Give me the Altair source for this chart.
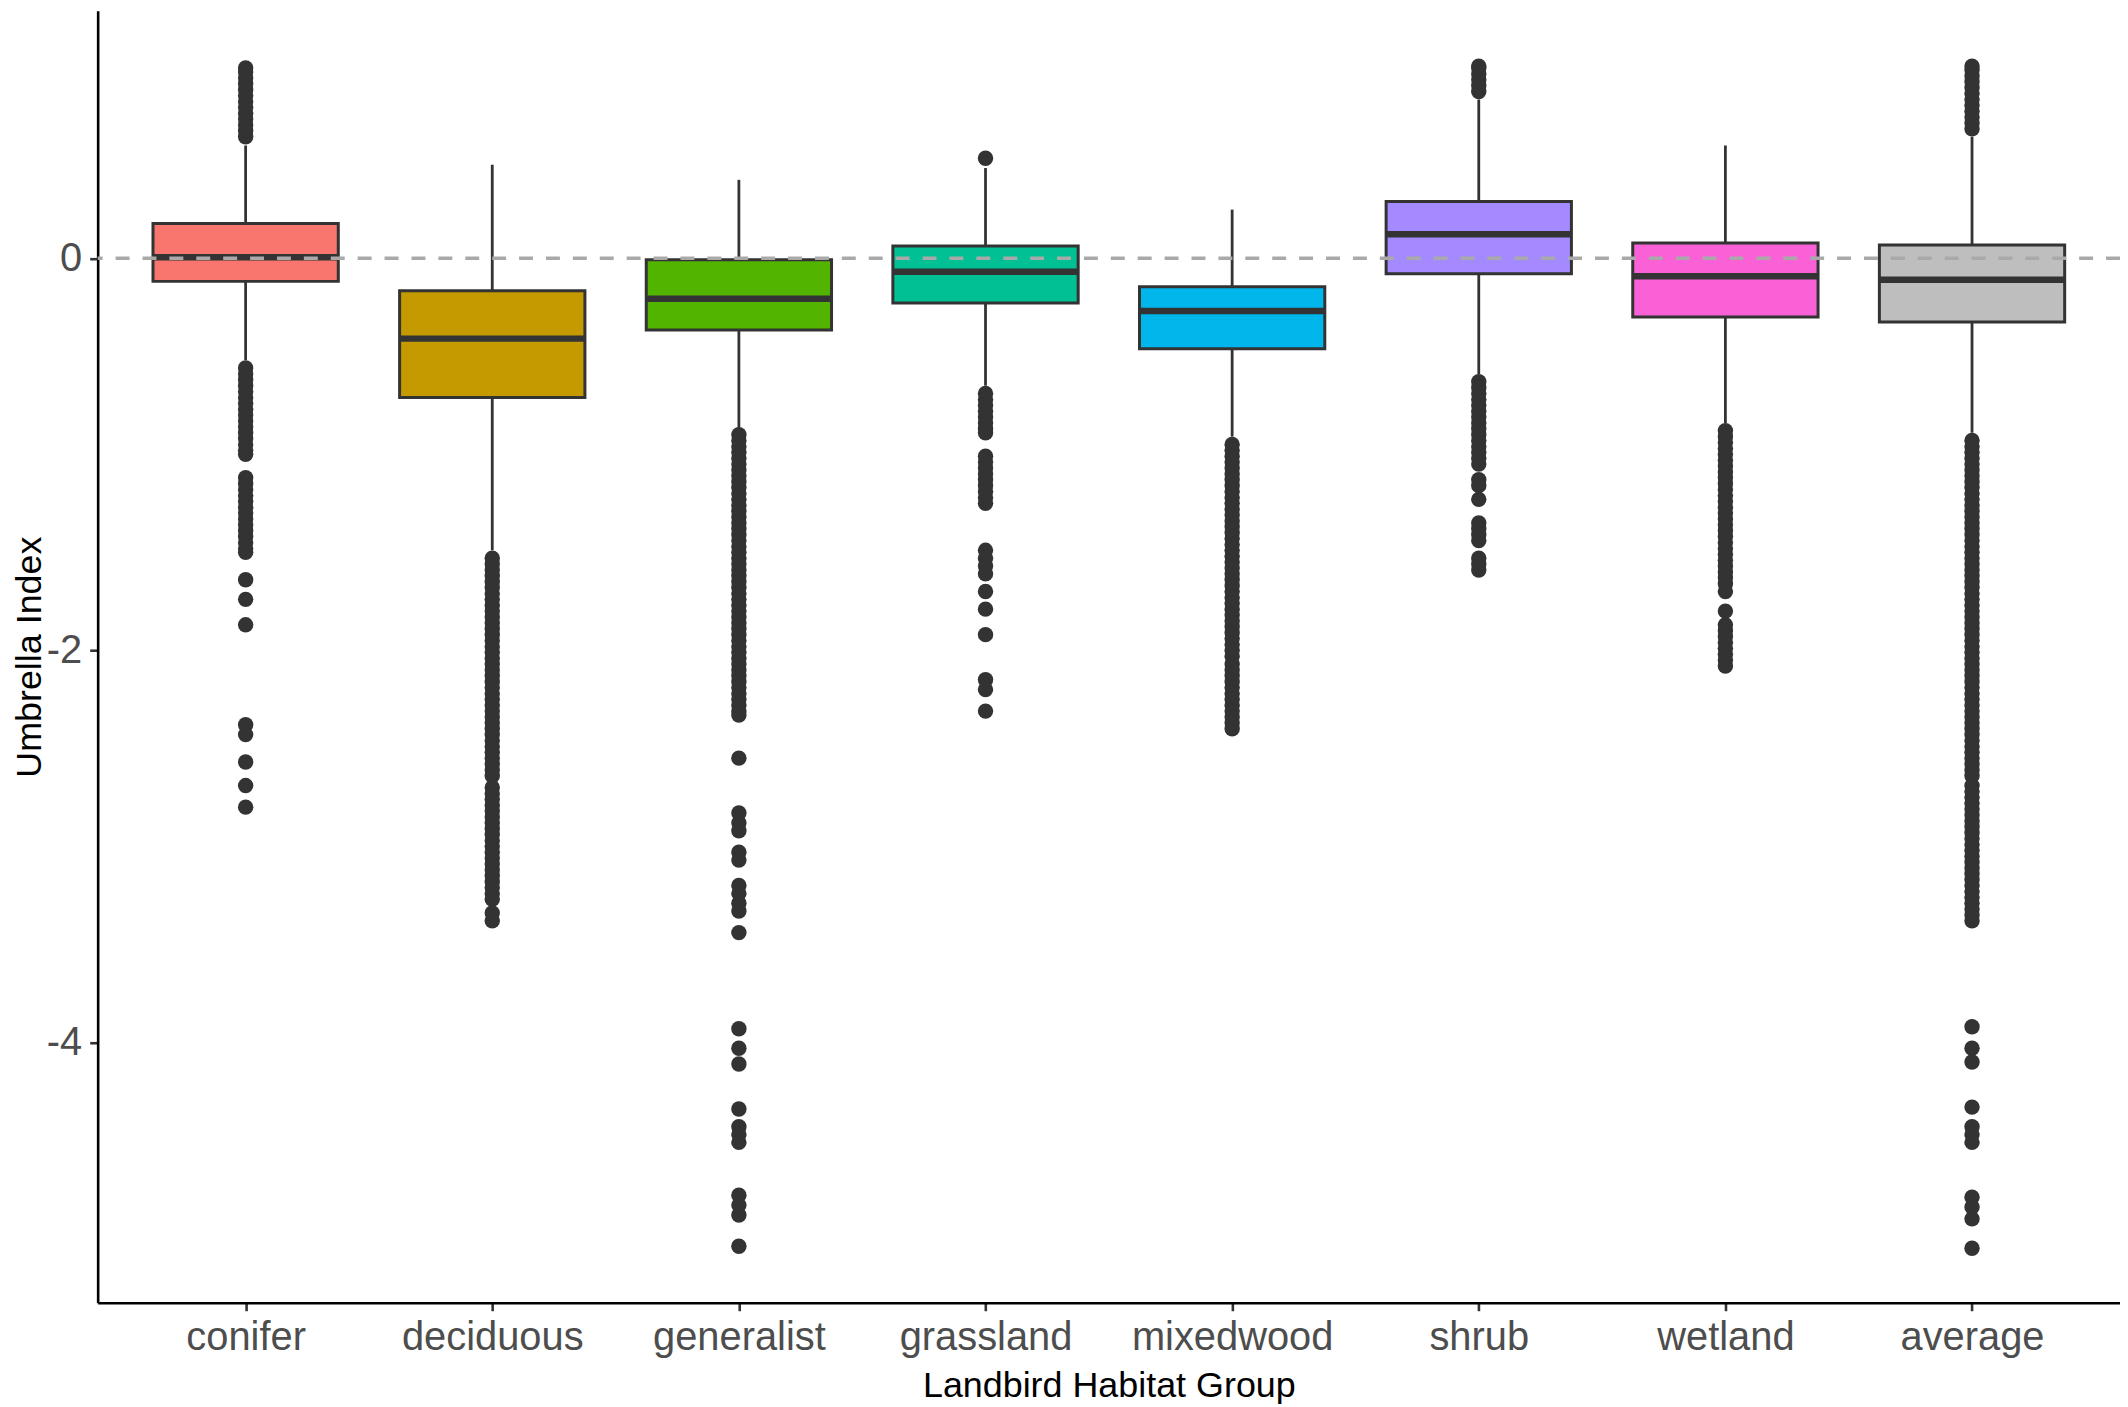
import altair as alt
import pandas as pd

# ---------------- data ----------------
categories = ["conifer", "deciduous", "generalist", "grassland",
              "mixedwood", "shrub", "wetland", "average"]
fill_colors = ["#F8766D", "#C49A00", "#53B400", "#00C094",
               "#00B6EB", "#A58AFF", "#FB61D7", "#BEBEBE"]

lower_hinge = [-0.118, -0.710, -0.366, -0.228, -0.462, -0.079, -0.300, -0.325]
medians = [0.005, -0.410, -0.207, -0.069, -0.269, 0.122, -0.092, -0.110]
upper_hinge = [0.177, -0.166, -0.008, 0.062, -0.145, 0.290, 0.078, 0.068]
whisker_low = [-0.52, -1.49, -0.87, -0.65, -0.91, -0.59, -0.84, -0.89]
whisker_high = [0.575, 0.477, 0.400, 0.460, 0.248, 0.810, 0.575, 0.620]

outliers_conifer = [
    0.62, 0.65, 0.68, 0.71, 0.74, 0.77, 0.80, 0.83, 0.86, 0.89, 0.92, 0.95, 0.97,
    -0.56, -0.59, -0.62, -0.65, -0.68, -0.71, -0.74, -0.77, -0.80, -0.83, -0.86,
    -0.89, -0.92, -0.95, -0.98, -1.00,
    -1.12, -1.15, -1.18, -1.21, -1.24, -1.27, -1.30, -1.33, -1.36, -1.39, -1.42,
    -1.45, -1.48, -1.50,
    -1.64, -1.74, -1.87, -2.38, -2.43, -2.57, -2.69, -2.80]
outliers_deciduous = [
    -1.53, -1.56, -1.59, -1.62, -1.65, -1.68, -1.71, -1.74, -1.77, -1.80,
    -1.83, -1.86, -1.89, -1.92, -1.95, -1.98, -2.01, -2.04, -2.07, -2.10,
    -2.13, -2.16, -2.19, -2.22, -2.25, -2.28, -2.31, -2.34, -2.37, -2.40,
    -2.43, -2.46, -2.49, -2.52, -2.55, -2.58, -2.61, -2.64, -2.70, -2.73,
    -2.76, -2.79, -2.82, -2.85, -2.88, -2.91, -2.94, -2.97, -3.00, -3.03,
    -3.06, -3.09, -3.12, -3.15, -3.18, -3.21, -3.24, -3.27, -3.34, -3.38]
outliers_generalist = [
    -0.90, -0.93, -0.96, -0.99, -1.02, -1.05, -1.08, -1.11, -1.14, -1.17,
    -1.20, -1.23, -1.26, -1.29, -1.32, -1.35, -1.38, -1.41, -1.44, -1.47,
    -1.50, -1.53, -1.56, -1.59, -1.62, -1.65, -1.68, -1.71, -1.74, -1.77,
    -1.80, -1.83, -1.86, -1.89, -1.92, -1.95, -1.98, -2.01, -2.04, -2.07,
    -2.10, -2.13, -2.16, -2.19, -2.22, -2.25, -2.28, -2.31, -2.33,
    -2.55, -2.83, -2.88, -2.92, -3.03, -3.07, -3.20, -3.24, -3.29, -3.33, -3.44,
    -3.93, -4.03, -4.11, -4.34, -4.43, -4.47, -4.51, -4.78, -4.83, -4.88, -5.04]
outliers_grassland = [
    0.51,
    -0.69, -0.72, -0.75, -0.78, -0.81, -0.84, -0.87, -0.89,
    -1.01, -1.04, -1.07, -1.10, -1.13, -1.16, -1.19, -1.22, -1.25,
    -1.49, -1.53, -1.57, -1.61, -1.70, -1.79, -1.92, -2.15, -2.20, -2.31]
outliers_mixedwood = [
    -0.95, -0.98, -1.01, -1.04, -1.07, -1.10, -1.13, -1.16, -1.19, -1.22,
    -1.25, -1.28, -1.31, -1.34, -1.37, -1.40, -1.43, -1.46, -1.49, -1.52,
    -1.55, -1.58, -1.61, -1.64, -1.67, -1.70, -1.73, -1.76, -1.79, -1.82,
    -1.85, -1.88, -1.91, -1.94, -1.97, -2.00, -2.03, -2.07, -2.10, -2.13,
    -2.16, -2.19, -2.22, -2.25, -2.28, -2.31, -2.34, -2.37, -2.40]
outliers_shrub = [
    0.85, 0.88, 0.91, 0.94, 0.97, 0.98,
    -0.63, -0.66, -0.69, -0.72, -0.75, -0.78, -0.81, -0.84, -0.87, -0.90,
    -0.93, -0.96, -0.99, -1.02, -1.05,
    -1.13, -1.16, -1.23, -1.35, -1.38, -1.41, -1.44, -1.53, -1.56, -1.59]
outliers_wetland = [
    -0.88, -0.91, -0.94, -0.97, -1.00, -1.03, -1.06, -1.09, -1.12, -1.15,
    -1.18, -1.21, -1.24, -1.27, -1.30, -1.33, -1.36, -1.39, -1.42, -1.45,
    -1.48, -1.51, -1.54, -1.57, -1.60, -1.63, -1.66, -1.70,
    -1.80, -1.87, -1.90, -1.93, -1.96, -1.99, -2.02, -2.05, -2.08]
outliers_average = [
    0.66, 0.69, 0.72, 0.75, 0.78, 0.81, 0.84, 0.87, 0.90, 0.93, 0.96, 0.98,
    -0.93, -0.96, -0.99, -1.02, -1.05, -1.08, -1.11, -1.14, -1.17, -1.20,
    -1.23, -1.26, -1.29, -1.32, -1.35, -1.38, -1.41, -1.44, -1.47, -1.50,
    -1.53, -1.56, -1.59, -1.62, -1.65, -1.68, -1.71, -1.74, -1.77, -1.80,
    -1.83, -1.86, -1.89, -1.92, -1.95, -1.98, -2.01, -2.04, -2.07, -2.10,
    -2.13, -2.16, -2.19, -2.22, -2.25, -2.28, -2.31, -2.34, -2.37, -2.40,
    -2.43, -2.46, -2.49, -2.52, -2.55, -2.58, -2.61, -2.64, -2.69, -2.72,
    -2.75, -2.78, -2.81, -2.84, -2.87, -2.90, -2.93, -2.96, -2.99, -3.02,
    -3.05, -3.08, -3.11, -3.14, -3.17, -3.20, -3.23, -3.26, -3.29, -3.32,
    -3.35, -3.38,
    -3.92, -4.03, -4.10, -4.33, -4.43, -4.47, -4.51, -4.79, -4.84, -4.90, -5.05]

reference_line = [0]
y_ticks = [0, -2, -4]
y_domain = [-5.328, 1.263]

# ---------------- tables built from the arrays ----------------
box_df = pd.DataFrame({
    "category": categories,
    "q1": lower_hinge,
    "med": medians,
    "q3": upper_hinge,
    "lo": whisker_low,
    "hi": whisker_high,
})
outlier_lists = [outliers_conifer, outliers_deciduous, outliers_generalist,
                 outliers_grassland, outliers_mixedwood, outliers_shrub,
                 outliers_wetland, outliers_average]
out_df = pd.DataFrame(
    [{"category": c, "value": v} for c, vals in zip(categories, outlier_lists) for v in vals]
)
ref_df = pd.DataFrame({"zero": reference_line})

FONT = "Liberation Sans"
PLOT_W, PLOT_H = 2030, 1297
BOX_W = 186
LINE = "#333333"

x_axis = alt.Axis(
    title="Landbird Habitat Group", labelAngle=0, labelFont=FONT, labelFontSize=40,
    labelColor="#4D4D4D", labelPadding=7, labelLimit=0, tickSize=8, tickWidth=2.6,
    tickColor=LINE, domainColor="#000000", domainWidth=2.6, grid=False,
    titleFont=FONT, titleFontSize=36, titleFontWeight="normal", titleColor="#000000",
    titleBaseline="alphabetic", titleY=94.5,
)
y_axis = alt.Axis(
    title="Umbrella Index", values=y_ticks,
    labelExpr="datum.value < 0 ? '-' + format(-datum.value, 'd') : format(datum.value, 'd')",
    labelFont=FONT, labelFontSize=40, labelColor="#4D4D4D", labelPadding=8, labelLimit=0,
    tickSize=8, tickWidth=2.6, tickColor=LINE,
    domainColor="#000000", domainWidth=2.6, grid=False,
    titleFont=FONT, titleFontSize=36, titleFontWeight="normal", titleColor="#000000",
    titleAngle=270, titleBaseline="alphabetic", titleX=-57, titleY=PLOT_H / 2,
)
x_scale = alt.Scale(type="point", domain=categories, padding=0.6)
y_scale = alt.Scale(domain=y_domain, nice=False, zero=False)

X = alt.X("category:N", scale=x_scale, axis=x_axis, sort=categories)

whiskers = alt.Chart(box_df).mark_rule(color=LINE, strokeWidth=2.8).encode(
    x=X,
    y=alt.Y("lo:Q", scale=y_scale, axis=y_axis),
    y2="hi:Q",
)
boxes = alt.Chart(box_df).mark_bar(size=BOX_W, stroke=LINE, strokeWidth=3.0, opacity=1).encode(
    x=X,
    y=alt.Y("q1:Q", scale=y_scale, axis=y_axis),
    y2="q3:Q",
    fill=alt.Fill("category:N", scale=alt.Scale(domain=categories, range=fill_colors), legend=None),
)
median_ticks = alt.Chart(box_df).mark_tick(size=BOX_W, thickness=6.5, color=LINE, opacity=1).encode(
    x=X,
    y=alt.Y("med:Q", scale=y_scale, axis=y_axis),
)
points = alt.Chart(out_df).mark_circle(size=240, color=LINE, opacity=1).encode(
    x=X,
    y=alt.Y("value:Q", scale=y_scale, axis=y_axis),
)
zero_rule = alt.Chart(ref_df).mark_rule(color="#A9A9A9", strokeWidth=3.4, strokeDash=[14, 13]).encode(
    y=alt.Y("zero:Q", scale=y_scale, axis=y_axis),
)

chart = alt.layer(whiskers, boxes, median_ticks, points, zero_rule).properties(
    width=PLOT_W,
    height=PLOT_H,
    autosize=alt.AutoSizeParams(type="none"),
    padding={"left": 90, "top": 0, "right": 0, "bottom": 102},
    background="white",
).configure_view(stroke=None)

chart.save("out.html", embed_options={"renderer": "svg", "actions": False})
